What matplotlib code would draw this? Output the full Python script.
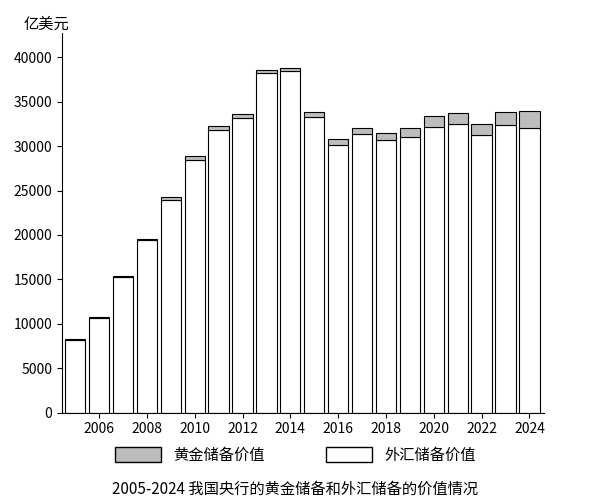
import matplotlib.pyplot as plt
import matplotlib.patches as mpatches

plt.rcParams['font.family'] = ['Noto Sans CJK SC', 'DejaVu Sans']

years = list(range(2005, 2025))
forex = [8190, 10660, 15280, 19460, 23990, 28470, 31810, 33120, 38210, 38430,
         33300, 30110, 31400, 30730, 31080, 32170, 32500, 31280, 32380, 32020]
total = [8250, 10750, 15380, 19560, 24320, 28900, 32320, 33620, 38610, 38830,
         33900, 30800, 32100, 31500, 32000, 33400, 33700, 32500, 33900, 34000]
gold = [t - f for t, f in zip(total, forex)]

fig = plt.figure(figsize=(5.91, 5.0), dpi=100)
ax = fig.add_axes([0.105, 0.175, 0.815, 0.76])

ax.bar(years, forex, width=0.85, color='white', edgecolor='black', linewidth=0.8)
ax.bar(years, gold, bottom=forex, width=0.85, color='#bdbdbd', edgecolor='black', linewidth=0.8)

ax.set_xlim(2004.45, 2024.6)
ax.set_ylim(0, 42800)
ax.set_yticks(range(0, 40001, 5000))
ax.set_xticks(range(2006, 2025, 2))
ax.tick_params(labelsize=10)
for s in ['top', 'right']:
    ax.spines[s].set_visible(False)
ax.text(-0.08, 1.0, '亿美元', transform=ax.transAxes, fontsize=11, va='bottom', ha='left')

handles = [mpatches.Patch(facecolor='#bdbdbd', edgecolor='black', label='黄金储备价值'),
           mpatches.Patch(facecolor='white', edgecolor='black', label='外汇储备价值')]
fig.legend(handles=handles, loc='lower center', bbox_to_anchor=(0.5, 0.045), ncol=2,
           frameon=False, fontsize=11, columnspacing=4, handlelength=3, handleheight=1.2)
fig.text(0.5, 0.012, '2005-2024 我国央行的黄金储备和外汇储备的价值情况', ha='center', fontsize=11)

fig.savefig('out.png', dpi=100)
